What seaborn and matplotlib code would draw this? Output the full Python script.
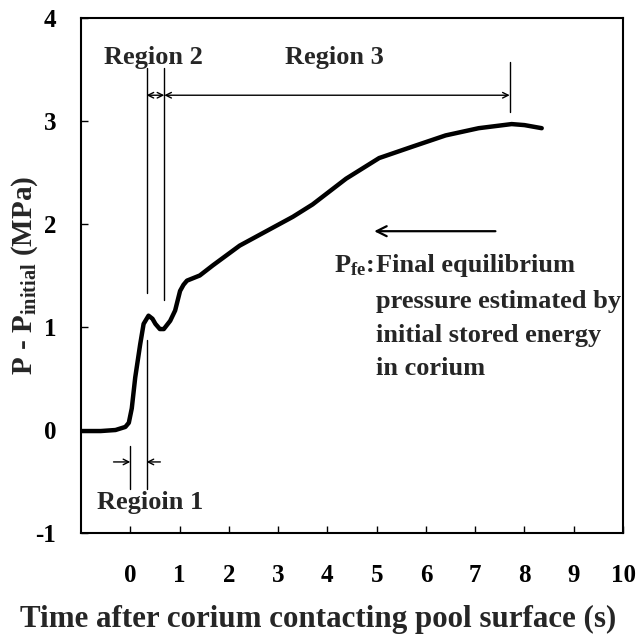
import matplotlib
matplotlib.use("Agg")
import matplotlib.pyplot as plt
import seaborn as sns
import pandas as pd

# ---- data ----
time_s = [-1.0, -0.6, -0.3, -0.1, -0.03, 0.03, 0.10, 0.20, 0.27, 0.37, 0.45, 0.51,
          0.60, 0.68, 0.81, 0.91, 1.01, 1.08, 1.15, 1.41, 1.68, 2.22, 2.76, 3.03,
          3.30, 3.70, 4.38, 5.05, 5.72, 6.40, 7.07, 7.74, 8.00, 8.35]
pressure_mpa = [-0.01, -0.01, 0.0, 0.03, 0.07, 0.21, 0.51, 0.83, 1.03, 1.11, 1.08, 1.03,
                0.98, 0.98, 1.06, 1.16, 1.35, 1.41, 1.45, 1.50, 1.60, 1.79, 1.93, 2.00,
                2.07, 2.19, 2.44, 2.64, 2.75, 2.86, 2.93, 2.97, 2.96, 2.93]
x_ticks = [0, 1, 2, 3, 4, 5, 6, 7, 8, 9, 10]
y_ticks = [-1, 0, 1, 2, 3, 4]
region_bounds = [0.0, 0.33, 0.69, 7.7]
pfe_lines = ["Final equilibrium", "pressure estimated by", "initial stored energy", "in corium"]
pfe_line_y = [1.62, 1.27, 0.94, 0.62]

df = pd.DataFrame({"t": time_s, "p": pressure_mpa})

sns.set_theme(style="white")
plt.rcParams["font.family"] = ["Liberation Serif", "DejaVu Serif"]
plt.rcParams["font.weight"] = "bold"
plt.rcParams["mathtext.fontset"] = "custom"
plt.rcParams["mathtext.rm"] = "Liberation Serif:bold"
plt.rcParams["mathtext.it"] = "Liberation Serif:bold"
plt.rcParams["mathtext.bf"] = "Liberation Serif:bold"

fig = plt.figure(figsize=(6.39, 6.35), dpi=100)
ax = fig.add_axes([0.1268, 0.1606, 0.975 - 0.1268, 0.9717 - 0.1606])

sns.lineplot(data=df, x="t", y="p", ax=ax, color="black", linewidth=3.2)

ax.set_xlim(-1, 10)
ax.set_ylim(-1, 4)
ax.set_xticks(x_ticks)
ax.set_yticks(y_ticks)
ax.set_xticklabels([str(v) for v in x_ticks], fontsize=18, fontweight="bold")
ax.set_yticklabels([str(v) for v in y_ticks], fontsize=18, fontweight="bold")
ax.tick_params(axis="x", direction="in", length=5, width=1, pad=22, bottom=True, top=False, colors="black")
ax.tick_params(axis="y", direction="in", length=5, width=1, pad=18, left=True, right=False, colors="black")
for s in ax.spines.values():
    s.set_color("black")
    s.set_linewidth(1.5)

ax.set_xlabel("Time after corium contacting pool surface (s)", fontsize=22.3, fontweight="bold")
ax.set_ylabel("P - P$_{initial}$ (MPa)", fontsize=21, fontweight="bold")
ax.xaxis.set_label_coords(0.437, -0.14)
ax.yaxis.set_label_coords(-0.076, 0.5)

thin = dict(color="black", linewidth=1.0)
b0, b1, b2, b3 = region_bounds
# vertical boundary lines
ax.plot([b1, b1], [3.51, 1.33], **thin)
ax.plot([b1, b1], [0.87, -0.57], **thin)
ax.plot([b2, b2], [3.51, 1.26], **thin)
ax.plot([b0, b0], [-0.16, -0.57], **thin)
ax.plot([b3, b3], [3.57, 3.09], **thin)

ap = dict(arrowstyle="->", color="black", lw=1.0, shrinkA=0, shrinkB=0, mutation_scale=10)
# Region 1 arrows
ax.annotate("", xy=(b0, -0.31), xytext=(-0.34, -0.31), arrowprops=ap)
ax.annotate("", xy=(b1, -0.31), xytext=(0.61, -0.31), arrowprops=ap)
# Region 2 double arrow
ax.annotate("", xy=(b2, 3.25), xytext=(b1, 3.25),
            arrowprops=dict(arrowstyle="<->", color="black", lw=1.0, shrinkA=0, shrinkB=0, mutation_scale=10))
# Region 3 double arrow
ax.annotate("", xy=(b3, 3.25), xytext=(b2, 3.25),
            arrowprops=dict(arrowstyle="<->", color="black", lw=1.0, shrinkA=0, shrinkB=0, mutation_scale=10))
# Pfe arrow
ax.annotate("", xy=(4.95, 1.93), xytext=(7.41, 1.93),
            arrowprops=dict(arrowstyle="->", color="black", lw=1.6, shrinkA=0, shrinkB=0, mutation_scale=18))

ax.text(0.46, 3.62, "Region 2", fontsize=19, fontweight="bold", ha="center", va="center")
ax.text(4.14, 3.62, "Region 3", fontsize=19, fontweight="bold", ha="center", va="center")
ax.text(0.40, -0.70, "Regioin 1", fontsize=19, fontweight="bold", ha="center", va="center")

ax.text(4.14, pfe_line_y[0], "P$_{fe}$:", fontsize=19, fontweight="bold", ha="left", va="center_baseline")
for line, yv in zip(pfe_lines, pfe_line_y):
    ax.text(4.99, yv, line, fontsize=19, fontweight="bold", ha="left", va="center_baseline")

fig.savefig("out.png", dpi=100)
